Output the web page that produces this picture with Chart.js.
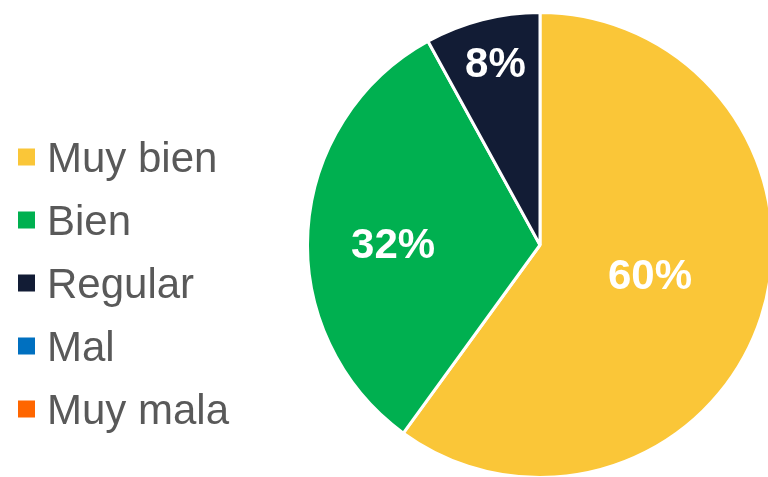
<!DOCTYPE html>
<html>
<head>
<meta charset="utf-8">
<script src="https://cdn.jsdelivr.net/npm/chart.js@4/dist/chart.umd.min.js"></script>
<style>
  html, body { margin: 0; padding: 0; background: #fff; overflow: hidden; }
  #wrap { width: 780px; height: 477px; }
</style>
</head>
<body>
<div id="wrap"><canvas id="pie" width="780" height="477"></canvas></div>
<script>
const categories = ['Muy bien', 'Bien', 'Regular', 'Mal', 'Muy mala'];
const values = [60, 32, 8, 0, 0];
const pctLabels = ['60%', '32%', '8%', '', ''];
const colors = ['#FAC638', '#00B050', '#121C35', '#0070C0', '#FF6600'];
// where each percentage sits: fraction of radius, and a small angle shift (deg)
const labelRadius = [0.496, 0.636, 0.803, 0.5, 0.5];
const labelShift = [-1.8, -4, 0.5, 0, 0];

const font = '"Liberation Sans", Arial, Helvetica, sans-serif';

// slice percentages + left-hand legend
const piePlugin = {
  id: 'pieText',
  afterDatasetsDraw(chart) {
    const ctx = chart.ctx;
    const meta = chart.getDatasetMeta(0);
    ctx.save();
    ctx.fillStyle = '#fff';
    ctx.font = 'bold 42px ' + font;
    ctx.textAlign = 'center';
    ctx.textBaseline = 'middle';
    meta.data.forEach((arc, i) => {
      if (!pctLabels[i]) return;
      const p = arc.getProps(['x', 'y', 'startAngle', 'endAngle']);
      const mid = (p.startAngle + p.endAngle) / 2 + labelShift[i] * Math.PI / 180;
      const r = 231 * labelRadius[i];
      ctx.fillText(pctLabels[i], p.x + Math.cos(mid) * r, p.y + Math.sin(mid) * r);
    });

    ctx.font = '42px ' + font;
    ctx.textAlign = 'left';
    ctx.textBaseline = 'alphabetic';
    categories.forEach((c, i) => {
      const cy = 157 + i * 63;
      ctx.fillStyle = colors[i];
      ctx.fillRect(18, cy - 8.5, 17, 17);
      ctx.fillStyle = '#595959';
      ctx.fillText(c, 47, cy + 15);
    });
    ctx.restore();
  }
};

new Chart(document.getElementById('pie').getContext('2d'), {
  type: 'pie',
  data: {
    labels: categories,
    datasets: [{
      data: values,
      backgroundColor: colors,
      borderColor: '#fff',
      borderWidth: 3,
    }],
  },
  options: {
    responsive: false,
    animation: false,
    radius: 232.5,
    layout: { padding: { left: 309, top: 14, right: 9, bottom: 1 } },
    plugins: {
      legend: { display: false },
      tooltip: { enabled: false },
    },
  },
  plugins: [piePlugin],
});
</script>
</body>
</html>
